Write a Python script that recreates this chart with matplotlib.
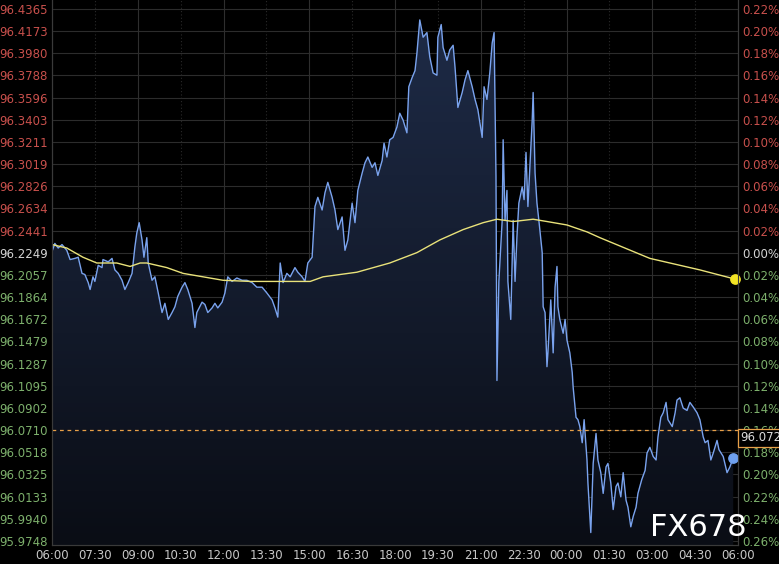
import numpy as np
import matplotlib
matplotlib.use('Agg')
import matplotlib.pyplot as plt
from matplotlib.patches import Polygon
from matplotlib.colors import LinearSegmentedColormap

# price series, minutes after 06:00
minutes = [0, 6, 13, 21, 31, 38, 48, 55, 63, 69, 76, 80, 86, 90, 97, 105, 107, 118, 126, 132,
           139, 147, 153, 160, 168, 174, 178, 183, 189, 193, 199, 202, 210, 216, 223, 231, 237, 244, 252, 258,
           264, 273, 279, 285, 294, 300, 304, 315, 321, 327, 336, 342, 348, 357, 363, 369, 378, 388, 399, 409,
           420, 430, 441, 451, 462, 468, 474, 479, 485, 493, 500, 510, 516, 525, 531, 537, 546, 552, 558, 567,
           573, 579, 588, 594, 600, 609, 615, 621, 630, 636, 642, 651, 657, 663, 672, 678, 684, 693, 697, 703,
           709, 716, 724, 730, 737, 745, 749, 756, 762, 766, 772, 779, 787, 793, 800, 808, 810, 817, 821, 829,
           835, 842, 846, 852, 861, 867, 873, 882, 888, 894, 903, 907, 913, 919, 924, 928, 932, 934, 938, 945,
           947, 951, 955, 957, 963, 968, 972, 976, 980, 987, 991, 995, 999, 1003, 1008, 1010, 1014, 1018, 1022, 1029,
           1031, 1035, 1039, 1041, 1047, 1052, 1056, 1060, 1062, 1066, 1073, 1077, 1081, 1087, 1092, 1094, 1100, 1104, 1108, 1113,
           1117, 1123, 1125, 1131, 1136, 1142, 1146, 1152, 1157, 1163, 1167, 1173, 1178, 1184, 1188, 1194, 1199, 1205, 1209, 1215,
           1220, 1226, 1230, 1238, 1245, 1249, 1255, 1262, 1268, 1272, 1278, 1283, 1289, 1293, 1302, 1308, 1312, 1318, 1325, 1333,
           1339, 1346, 1354, 1360, 1367, 1371, 1377, 1383, 1388, 1396, 1400, 1409, 1417, 1423, 1430]
prices = [96.226, 96.233, 96.229, 96.232, 96.227, 96.219, 96.220, 96.221, 96.207, 96.206, 96.199, 96.193, 96.204, 96.200, 96.214, 96.212, 96.219, 96.217, 96.220, 96.210,
          96.207, 96.201, 96.193, 96.199, 96.207, 96.230, 96.242, 96.251, 96.236, 96.221, 96.238, 96.216, 96.201, 96.204, 96.190, 96.173, 96.181, 96.167, 96.173, 96.178,
          96.187, 96.195, 96.199, 96.193, 96.181, 96.160, 96.173, 96.182, 96.180, 96.173, 96.177, 96.181, 96.177, 96.182, 96.190, 96.204, 96.200, 96.203, 96.201, 96.201,
          96.199, 96.195, 96.195, 96.190, 96.184, 96.177, 96.169, 96.216, 96.199, 96.207, 96.204, 96.212, 96.208, 96.204, 96.200, 96.216, 96.221, 96.265, 96.273, 96.262,
          96.277, 96.286, 96.273, 96.262, 96.245, 96.256, 96.227, 96.236, 96.268, 96.251, 96.279, 96.294, 96.303, 96.308, 96.299, 96.303, 96.292, 96.305, 96.320, 96.308,
          96.323, 96.325, 96.334, 96.346, 96.340, 96.329, 96.369, 96.377, 96.383, 96.398, 96.427, 96.412, 96.416, 96.395, 96.381, 96.379, 96.412, 96.423, 96.403, 96.392,
          96.401, 96.405, 96.386, 96.351, 96.364, 96.375, 96.383, 96.369, 96.358, 96.349, 96.325, 96.369, 96.358, 96.381, 96.407, 96.416, 96.291, 96.114, 96.200, 96.253,
          96.323, 96.253, 96.279, 96.200, 96.167, 96.253, 96.200, 96.239, 96.268, 96.282, 96.271, 96.312, 96.265, 96.299, 96.340, 96.364, 96.294, 96.268, 96.253, 96.225,
          96.178, 96.173, 96.126, 96.138, 96.184, 96.138, 96.195, 96.213, 96.178, 96.167, 96.155, 96.167, 96.149, 96.138, 96.121, 96.108, 96.082, 96.080, 96.074, 96.060,
          96.080, 96.045, 96.025, 95.982, 96.042, 96.068, 96.045, 96.034, 96.016, 96.039, 96.042, 96.025, 96.002, 96.022, 96.025, 96.013, 96.034, 96.010, 96.004, 95.987,
          95.996, 96.004, 96.016, 96.028, 96.036, 96.051, 96.056, 96.048, 96.045, 96.065, 96.082, 96.086, 96.095, 96.080, 96.074, 96.086, 96.097, 96.099, 96.090, 96.088,
          96.095, 96.091, 96.086, 96.080, 96.065, 96.060, 96.062, 96.045, 96.051, 96.062, 96.054, 96.048, 96.034, 96.039, 96.047]

# moving average (yellow)
ma_minutes = [0, 31, 65, 94, 136, 164, 185, 199, 241, 275, 317, 359, 416, 472, 527, 542, 569, 640, 709, 766,
              814, 863, 905, 934, 968, 1010, 1039, 1081, 1123, 1150, 1255, 1360, 1434]
ma_prices = [96.232, 96.229, 96.221, 96.216, 96.216, 96.213, 96.216, 96.216, 96.212, 96.207, 96.204, 96.201, 96.200, 96.200, 96.200, 96.200, 96.204, 96.208, 96.216, 96.225,
             96.236, 96.245, 96.251, 96.254, 96.252, 96.254, 96.252, 96.249, 96.243, 96.238, 96.220, 96.210, 96.202]

prev_close = 96.2249
last_line = 96.0710
last_label = '96.072'

left_labels = ['96.4365', '96.4173', '96.3980', '96.3788', '96.3596', '96.3403', '96.3211', '96.3019',
               '96.2826', '96.2634', '96.2441', '96.2249', '96.2057', '96.1864', '96.1672', '96.1479',
               '96.1287', '96.1095', '96.0902', '96.0710', '96.0518', '96.0325', '96.0133', '95.9940', '95.9748']
right_labels = ['0.22%', '0.20%', '0.18%', '0.16%', '0.14%', '0.12%', '0.10%', '0.08%', '0.06%', '0.04%',
                '0.02%', '0.00%', '0.02%', '0.04%', '0.06%', '0.08%', '0.10%', '0.12%', '0.14%', '0.16%',
                '0.18%', '0.20%', '0.22%', '0.24%', '0.26%']
time_labels = ['06:00', '07:30', '09:00', '10:30', '12:00', '13:30', '15:00', '16:30', '18:00',
               '19:30', '21:00', '22:30', '00:00', '01:30', '03:00', '04:30', '06:00']

red = '#c8504c'
green = '#7db06c'
white = '#d4d4d4'

fig = plt.figure(figsize=(7.79, 5.64), dpi=100, facecolor='black')
ax = fig.add_axes([52/779, 19/564, 686/779, 545/564])
ax.set_facecolor('black')

ymax = 96.4443
ymin = 95.9712
ax.set_xlim(0, 1440)
ax.set_ylim(ymin, ymax)

# grid
ticks_y = [float(s) for s in left_labels]
for v in ticks_y:
    ax.axhline(v, color='#2c2c2c', lw=0.8, zorder=0)
ticks_x = np.arange(0, 1441, 90)
for i, t in enumerate(ticks_x):
    if i % 2 == 0:
        ax.axvline(t, color='#2e2e2e', lw=0.8, zorder=0)
    else:
        ax.axvline(t, color='#2a2a2a', lw=0.8, ls=(0, (1, 2)), zorder=0)

# gradient fill under the price line
verts = list(zip(minutes, prices)) + [(minutes[-1], ymin), (minutes[0], ymin)]
poly = Polygon(verts, closed=True, facecolor='none', edgecolor='none')
ax.add_patch(poly)
cmap = LinearSegmentedColormap.from_list('fill', ['#0a0d15', '#1e2b47'])
grad = np.linspace(0, 1, 256).reshape(-1, 1)
img = ax.imshow(grad, cmap=cmap, aspect='auto', origin='lower',
                extent=[0, 1440, ymin, 96.43], zorder=1)
img.set_clip_path(poly)

ax.plot(minutes, prices, color='#7aa3ee', lw=1.0, zorder=3)
ax.plot(ma_minutes, ma_prices, color='#e9e27a', lw=1.0, zorder=4)
ax.scatter([ma_minutes[-1]], [ma_prices[-1]], s=45, color='#f2e325', zorder=5, clip_on=False)
ax.scatter([minutes[-1]], [prices[-1]], s=45, color='#6fa0ee', zorder=5, clip_on=False)

ax.axhline(last_line, color='#e8a048', lw=0.9, ls=(0, (3, 3)), zorder=4)

# axes ticks
ax.set_yticks(ticks_y)
ax.set_yticklabels(left_labels)
ax.tick_params(axis='y', length=0, pad=3, labelsize=8.5)
for lab, s in zip(ax.get_yticklabels(), left_labels):
    v = float(s)
    lab.set_color(red if v > prev_close + 1e-4 else (green if v < prev_close - 1e-4 else white))

ax.set_xticks(ticks_x)
ax.set_xticklabels(time_labels)
ax.tick_params(axis='x', length=0, pad=3, labelsize=8.5, colors='#c8c8c8')

ax2 = ax.twinx()
ax2.set_ylim(ymin, ymax)
ax2.set_yticks(ticks_y)
ax2.set_yticklabels(right_labels)
ax2.tick_params(axis='y', length=0, pad=3, labelsize=8.5)
for lab, s in zip(ax2.get_yticklabels(), left_labels):
    v = float(s)
    lab.set_color(red if v > prev_close + 1e-4 else (green if v < prev_close - 1e-4 else white))

for a in (ax, ax2):
    for side in a.spines:
        a.spines[side].set_color('#3a3a3a')
        a.spines[side].set_linewidth(0.8)
    a.spines['top'].set_visible(False)

# last price box
ax2.text(1.003, 96.0641, last_label, transform=ax2.get_yaxis_transform(), ha='left', va='center',
         fontsize=8.5, color='#dcdcdc', zorder=10, clip_on=False,
         bbox=dict(boxstyle='square,pad=0.2', facecolor='black', edgecolor='#e8a048', lw=0.9))

fig.text(650/779, 1 - 528/564, 'FX678', color='white', fontsize=22, ha='left', va='center', zorder=20)

fig.savefig('out.png', dpi=100, facecolor='black')
